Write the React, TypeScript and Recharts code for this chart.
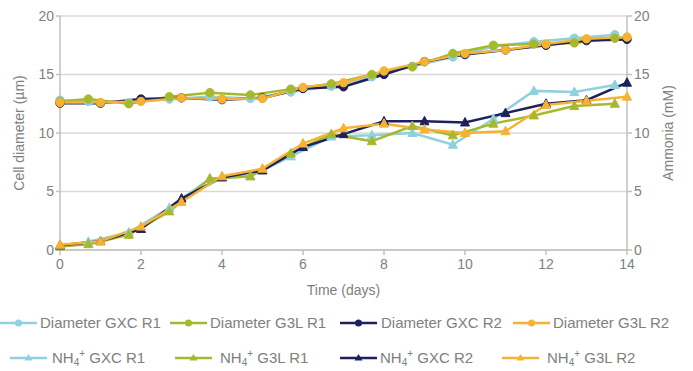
import React from 'react';
import { LineChart, Line, XAxis, YAxis, CartesianGrid } from 'recharts';

const r1Days = [0, 0.7, 1.7, 2.7, 3.7, 4.7, 5.7, 6.7, 7.7, 8.7, 9.7, 10.7, 11.7, 12.7, 13.7];
const r2Days = [0, 1, 2, 3, 4, 5, 6, 7, 8, 9, 10, 11, 12, 13, 14];

const diamGxcR1 = [12.8, 12.7, 12.6, 12.9, 13.1, 12.95, 13.5, 14.0, 14.8, 15.7, 16.5, 17.4, 17.8, 18.1, 18.4];
const diamG3lR1 = [12.7, 12.9, 12.5, 13.1, 13.45, 13.25, 13.75, 14.2, 15.0, 15.65, 16.8, 17.5, 17.6, 17.7, 18.1];
const diamGxcR2 = [12.55, 12.55, 12.9, 13.0, 12.85, 13.0, 13.8, 13.95, 15.0, 16.1, 16.7, 17.1, 17.5, 17.9, 18.0];
const diamG3lR2 = [12.6, 12.6, 12.7, 13.0, 12.9, 12.95, 13.9, 14.3, 15.3, 16.1, 16.8, 17.1, 17.6, 18.05, 18.2];

const nh4GxcR1 = [0.3, 0.7, 1.5, 3.6, 6.1, 6.3, 8.0, 9.7, 9.8, 10.0, 9.0, 11.2, 13.6, 13.5, 14.1];
const nh4G3lR1 = [0.3, 0.5, 1.3, 3.3, 6.1, 6.3, 8.25, 9.9, 9.3, 10.6, 9.8, 10.8, 11.5, 12.3, 12.5];
const nh4GxcR2 = [0.4, 0.75, 1.8, 4.4, 6.2, 6.8, 8.8, 9.9, 11.0, 11.0, 10.9, 11.7, 12.5, 12.8, 14.3];
const nh4G3lR2 = [0.45, 0.75, 2.0, 4.1, 6.3, 6.95, 9.1, 10.4, 10.8, 10.3, 10.0, 10.15, 12.4, 12.75, 13.1];

const xTicks = [0, 2, 4, 6, 8, 10, 12, 14];
const yTicks = [0, 5, 10, 15, 20];

const C_LBLUE = '#8fd1dd';
const C_GREEN = '#a8b82c';
const C_NAVY = '#1f205e';
const C_ORANGE = '#f6b333';
const TEXT = '#808080';
const FONT = '"Liberation Sans", Arial, sans-serif';

const mk = (days: number[], vals: number[]) => days.map((d, i) => ({ x: d, y: vals[i] }));

const diamSeries = [
  { name: 'Diameter GXC R1', color: C_LBLUE, data: mk(r1Days, diamGxcR1) },
  { name: 'Diameter G3L R1', color: C_GREEN, data: mk(r1Days, diamG3lR1) },
  { name: 'Diameter GXC R2', color: C_NAVY, data: mk(r2Days, diamGxcR2) },
  { name: 'Diameter G3L R2', color: C_ORANGE, data: mk(r2Days, diamG3lR2) },
];
const nh4Series = [
  { name: 'NH4+ GXC R1', color: C_LBLUE, data: mk(r1Days, nh4GxcR1) },
  { name: 'NH4+ G3L R1', color: C_GREEN, data: mk(r1Days, nh4G3lR1) },
  { name: 'NH4+ GXC R2', color: C_NAVY, data: mk(r2Days, nh4GxcR2) },
  { name: 'NH4+ G3L R2', color: C_ORANGE, data: mk(r2Days, nh4G3lR2) },
];

const triDot = (color: string) => (props: any) => {
  const { cx, cy, index } = props;
  if (cx == null || cy == null) return <g key={index} />;
  const s = 4.5;
  return (
    <polygon
      key={index}
      points={`${cx},${cy - s - 0.5} ${cx - s},${cy + s - 1} ${cx + s},${cy + s - 1}`}
      fill={color}
      stroke={color}
      strokeWidth={1}
    />
  );
};

const legendRow1 = [
  { label: 'Diameter GXC R1', color: C_LBLUE, icon: 0, text: 40 },
  { label: 'Diameter G3L R1', color: C_GREEN, icon: 170, text: 210 },
  { label: 'Diameter GXC R2', color: C_NAVY, icon: 340, text: 381 },
  { label: 'Diameter G3L R2', color: C_ORANGE, icon: 513, text: 553 },
];
const legendRow2 = [
  { label: 'GXC R1', color: C_LBLUE, icon: 10, text: 52 },
  { label: 'G3L R1', color: C_GREEN, icon: 175, text: 220 },
  { label: 'GXC R2', color: C_NAVY, icon: 340, text: 380 },
  { label: 'G3L R2', color: C_ORANGE, icon: 502, text: 547 },
];

const LegendIcon = ({ color, tri }: { color: string; tri: boolean }) => (
  <svg width={37} height={12} style={{ display: 'block' }}>
    <line x1={0} y1={6} x2={37} y2={6} stroke={color} strokeWidth={2.5} />
    {tri ? (
      <polygon points="18.5,2 14.5,8.5 22.5,8.5" fill={color} />
    ) : (
      <circle cx={18.5} cy={6} r={3.5} fill={color} />
    )}
  </svg>
);

export default function App() {
  return (
    <div style={{ position: 'fixed', left: 0, top: 0, width: 693, height: 371, background: '#fff', fontFamily: FONT }}>
      <LineChart width={693} height={371} margin={{ top: 16, right: 0, bottom: 71, left: 0 }}>
        <CartesianGrid vertical={false} stroke="#d9d9d9" strokeWidth={1.5} yAxisId="left" />
        <XAxis
          type="number"
          dataKey="x"
          domain={[0, 14]}
          ticks={xTicks}
          allowDuplicatedCategory={false}
          height={50}
          stroke="#c0c0c0"
          strokeWidth={1.5}
          tickSize={5}
          tickMargin={4}
          tick={{ fill: TEXT, fontSize: 14, fontFamily: FONT }}
          label={{ value: 'Time (days)', position: 'insideBottom', offset: 5, fill: TEXT, fontSize: 14, fontFamily: FONT }}
        />
        <YAxis
          yAxisId="left"
          domain={[0, 20]}
          ticks={yTicks}
          width={60}
          stroke="#c0c0c0"
          strokeWidth={1.5}
          tickSize={4}
          tick={{ fill: TEXT, fontSize: 14, fontFamily: FONT }}
          label={{ value: 'Cell diameter (µm)', angle: -90, position: 'center', dx: -11, fill: TEXT, fontSize: 14, fontFamily: FONT }}
        />
        <YAxis
          yAxisId="right"
          orientation="right"
          domain={[0, 20]}
          ticks={yTicks}
          width={66}
          stroke="#c0c0c0"
          strokeWidth={1.5}
          tickSize={5}
          tick={{ fill: TEXT, fontSize: 14, fontFamily: FONT }}
          label={{ value: 'Ammonia (mM)', angle: -90, position: 'center', dx: 8, fill: TEXT, fontSize: 14, fontFamily: FONT }}
        />
        {nh4Series.map((s) => (
          <Line
            key={s.name}
            name={s.name}
            yAxisId="right"
            data={s.data}
            dataKey="y"
            type="linear"
            stroke={s.color}
            strokeWidth={2.5}
            dot={triDot(s.color)}
            activeDot={false}
            isAnimationActive={false}
          />
        ))}
        {diamSeries.map((s) => (
          <Line
            key={s.name}
            name={s.name}
            yAxisId="left"
            data={s.data}
            dataKey="y"
            type="linear"
            stroke={s.color}
            strokeWidth={2.5}
            dot={{ r: 4.2, fill: s.color, stroke: s.color, strokeWidth: 1 }}
            activeDot={false}
            isAnimationActive={false}
          />
        ))}
      </LineChart>
      {legendRow1.map((it) => (
        <React.Fragment key={it.label}>
          <div style={{ position: 'absolute', left: it.icon, top: 317 }}>
            <LegendIcon color={it.color} tri={false} />
          </div>
          <div style={{ position: 'absolute', left: it.text, top: 314, fontSize: 15, color: TEXT, lineHeight: '18px', whiteSpace: 'nowrap' }}>
            {it.label}
          </div>
        </React.Fragment>
      ))}
      {legendRow2.map((it) => (
        <React.Fragment key={it.label}>
          <div style={{ position: 'absolute', left: it.icon, top: 352 }}>
            <LegendIcon color={it.color} tri={true} />
          </div>
          <div style={{ position: 'absolute', left: it.text, top: 349, fontSize: 15, color: TEXT, lineHeight: '18px', whiteSpace: 'nowrap' }}>
            NH<sub style={{ fontSize: 10, verticalAlign: '-3px', lineHeight: 0 }}>4</sub>
            <sup style={{ fontSize: 10, verticalAlign: '6px', lineHeight: 0 }}>+</sup> {it.label}
          </div>
        </React.Fragment>
      ))}
    </div>
  );
}
